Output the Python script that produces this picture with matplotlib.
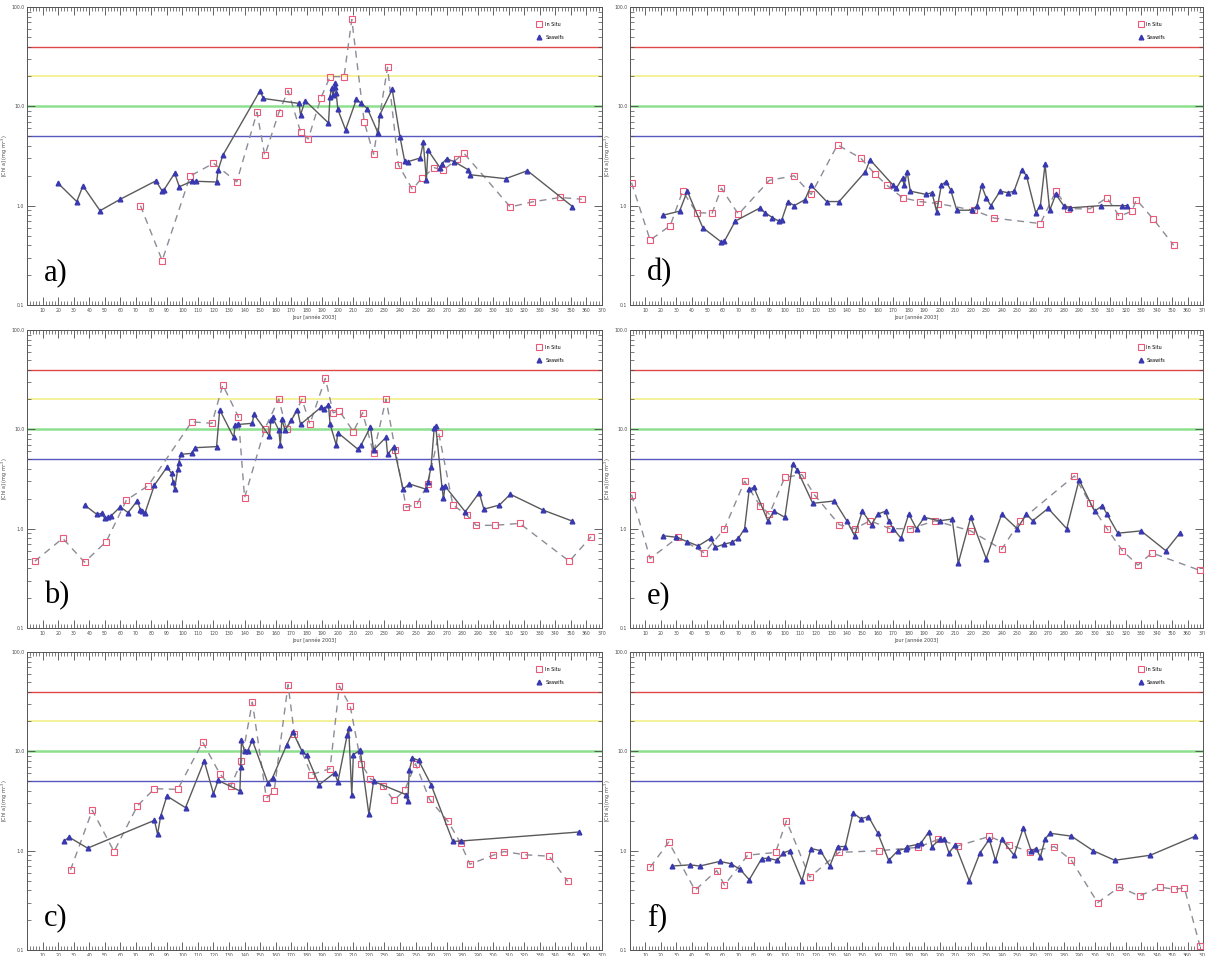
import matplotlib
matplotlib.use('Agg')

from matplotlib import pyplot as plt
from matplotlib.lines import Line2D
from matplotlib.ticker import FixedLocator, NullFormatter, MultipleLocator
import numpy as np

# Chl a, campagne 2003 : mesures in situ et estimations SeaWiFS (jour de l'annee)

a_situ_j = [73, 87, 105, 120, 135, 148, 153, 162, 168, 176, 181, 189, 195, 204, 209,
            217, 223, 232, 239, 248, 254, 262, 268, 277, 281, 311, 325, 343, 357]
a_situ_v = [1.0, 0.28, 1.99, 2.67, 1.74, 8.7, 3.2, 8.6, 14.4, 5.55, 4.7, 12.0, 19.9, 19.9, 75,
            6.95, 3.3, 24.7, 2.57, 1.46, 1.89, 2.41, 2.29, 2.97, 3.39, 0.97, 1.09, 1.21, 1.16]
a_sat_j = [20, 32, 36, 47, 60, 83, 87, 88, 95, 98, 106, 109, 122, 123, 126, 150, 152,
           175, 176, 179, 194, 195, 196, 197, 198, 198.5, 199, 200, 205, 212, 215, 219,
           226, 227, 235, 240, 243, 245, 253, 255, 257, 258, 266, 267, 270, 275, 284,
           285, 308, 322, 351]
a_sat_v = [1.68, 1.10, 1.58, 0.89, 1.16, 1.78, 1.40, 1.43, 2.12, 1.55, 1.76, 1.76, 1.73,
           2.29, 3.21, 14.4, 12.0, 10.7, 8.2, 11.4, 6.8, 12.5, 15.4, 12.9, 15.5, 17.1,
           13.5, 9.3, 5.8, 11.8, 10.7, 9.5, 5.35, 8.2, 14.8, 4.94, 2.82, 2.77, 3.02,
           4.35, 1.81, 3.63, 2.38, 2.63, 2.97, 2.77, 2.29, 2.05, 1.87, 2.25, 0.98]

b_situ_j = [5, 23, 37, 51, 64, 78, 106, 119, 126, 136, 140, 153, 162, 167, 177, 182,
            192, 197, 201, 210, 216, 223, 231, 237, 244, 251, 258, 265, 274, 283, 289,
            301, 317, 349, 363]
b_situ_v = [0.47, 0.80, 0.46, 0.74, 1.94, 2.71, 11.9, 11.5, 27.9, 13.4, 2.05, 10.1, 20.2,
            10.0, 20.0, 11.3, 32.6, 14.7, 15.3, 9.5, 14.7, 5.73, 20.2, 6.2, 1.64, 1.77,
            2.82, 9.1, 1.74, 1.37, 1.08, 1.08, 1.13, 0.47, 0.83]
b_sat_j = [37, 45, 48, 50, 52, 54, 60, 65, 71, 73, 74, 76, 82, 90, 93, 94, 95, 97, 97.5,
           99, 106, 108, 122, 124, 133, 134, 136, 145, 146, 156, 157, 158, 162, 163, 164,
           166, 170, 174, 176, 189, 191, 194, 195, 199, 200, 213, 215, 221, 223, 231,
           232, 236, 242, 246, 257, 258, 260, 262, 263, 267, 268, 269, 282, 291, 294,
           304, 311, 332, 351]
b_sat_v = [1.73, 1.39, 1.43, 1.27, 1.30, 1.34, 1.66, 1.45, 1.91, 1.54, 1.51, 1.45, 2.75,
           4.14, 3.61, 2.97, 2.51, 3.96, 4.55, 5.6, 5.73, 6.53, 6.7, 15.7, 8.3, 11.1,
           11.2, 11.5, 14.2, 8.57, 12.4, 13.2, 9.85, 6.9, 12.6, 9.85, 12.3, 15.7, 11.2,
           16.6, 16.2, 17.6, 11.3, 6.95, 9.25, 6.29, 6.95, 10.6, 6.2, 8.3, 5.6, 6.7,
           2.49, 2.82, 2.49, 2.97, 4.14, 10.2, 10.8, 2.64, 2.02, 2.68, 1.48, 2.30, 1.57,
           1.73, 2.22, 1.54, 1.19]

c_situ_j = [28, 42, 56, 71, 82, 97, 113, 124, 131, 138, 145, 154, 159, 168, 172, 183,
            195, 201, 208, 215, 221, 229, 236, 243, 250, 259, 271, 279, 285, 300, 307,
            320, 336, 348]
c_situ_v = [0.64, 2.55, 0.98, 2.82, 4.21, 4.14, 12.4, 5.96, 4.44, 7.93, 31.4, 3.39, 3.96,
            46.9, 15.1, 5.82, 6.7, 45.5, 28.4, 7.5, 5.3, 4.48, 3.21, 4.05, 7.5, 3.29,
            1.97, 1.19, 0.73, 0.90, 0.98, 0.91, 0.88, 0.49]
c_sat_j = [24, 27, 39, 82, 84, 86, 90, 102, 114, 120, 123, 137, 137.5, 138, 140, 142,
           145, 155, 158, 167, 171, 177, 180, 188, 198, 200, 206, 207, 209, 210, 214,
           214.5, 220, 223, 244, 245, 246, 248, 252, 260, 274, 279, 355]
c_sat_v = [1.25, 1.37, 1.06, 2.02, 1.46, 2.22, 3.55, 2.71, 8.0, 3.75, 5.1, 3.99, 6.95,
           12.9, 10.0, 10.1, 12.9, 4.8, 5.43, 11.5, 15.7, 10.0, 9.1, 4.61, 6.1, 4.91,
           14.5, 17.2, 3.6, 9.25, 10.2, 10.0, 2.32, 4.99, 3.66, 3.14, 6.44, 8.57, 8.1,
           4.61, 1.24, 1.25, 1.54]

d_situ_j = [1, 13, 26, 34, 43, 53, 59, 70, 90, 106, 117, 134, 149, 158, 166, 176, 187,
            199, 222, 235, 265, 275, 283, 297, 308, 316, 324, 327, 338, 351]
d_situ_v = [1.7, 0.45, 0.63, 1.4, 0.85, 0.84, 1.5, 0.82, 1.8, 2.0, 1.3, 4.1, 3.0, 2.1,
            1.6, 1.2, 1.1, 1.05, 0.9, 0.75, 0.66, 1.4, 0.93, 0.93, 1.2, 0.78, 0.88,
            1.15, 0.73, 0.40]
d_sat_j = [21, 32, 37, 47, 59, 61, 68, 84, 87, 92, 96, 98, 102, 106, 113, 117, 127, 135,
           152, 155, 170, 172, 176, 177, 179, 181, 191, 195, 198, 201, 204, 207, 211,
           221, 224, 227, 230, 233, 239, 244, 248, 253, 256, 262, 265, 268, 271, 275,
           280, 284, 304, 318, 321]
d_sat_v = [0.8, 0.88, 1.4, 0.6, 0.43, 0.44, 0.7, 0.95, 0.85, 0.76, 0.7, 0.72, 1.1, 1.0,
           1.15, 1.6, 1.1, 1.1, 2.2, 2.9, 1.6, 1.5, 1.9, 1.6, 2.2, 1.4, 1.3, 1.35, 0.87,
           1.6, 1.75, 1.45, 0.9, 0.9, 1.0, 1.6, 1.2, 1.0, 1.4, 1.35, 1.4, 2.3, 2.0, 0.85,
           1.0, 2.6, 0.9, 1.3, 1.0, 0.95, 1.0, 1.0, 1.0]

e_situ_j = [1, 13, 31, 48, 61, 74, 84, 90, 100, 111, 119, 135, 145, 155, 168, 181,
            197, 220, 240, 252, 287, 297, 308, 318, 328, 337, 368]
e_situ_v = [2.2, 0.5, 0.82, 0.57, 1.0, 3.0, 1.7, 1.4, 3.3, 3.5, 2.2, 1.1, 1.0, 1.2,
            1.0, 1.0, 1.2, 0.95, 0.62, 1.2, 3.4, 1.8, 1.0, 0.6, 0.43, 0.57, 0.38]
e_sat_j = [21, 30, 37, 44, 52, 55, 61, 66, 70, 74, 77, 80, 89, 93, 100, 105, 108, 118,
           132, 140, 145, 150, 156, 160, 165, 167, 170, 175, 180, 185, 190, 200, 208,
           212, 220, 230, 240, 250, 256, 260, 270, 282, 290, 300, 305, 308, 315, 330,
           346, 355]
e_sat_v = [0.85, 0.82, 0.74, 0.67, 0.8, 0.65, 0.7, 0.73, 0.8, 1.0, 2.5, 2.6, 1.2, 1.5,
           1.3, 4.5, 3.9, 1.8, 1.9, 1.2, 0.85, 1.5, 1.1, 1.4, 1.5, 1.2, 1.0, 0.8, 1.4,
           1.0, 1.3, 1.2, 1.25, 0.45, 1.3, 0.5, 1.4, 1.0, 1.4, 1.2, 1.6, 1.0, 3.1, 1.5,
           1.7, 1.4, 0.9, 0.95, 0.6, 0.9]

f_situ_j = [13, 25, 42, 56, 61, 76, 94, 101, 116, 135, 161, 186, 199, 212, 232, 245,
            258, 274, 285, 302, 316, 329, 342, 351, 358, 368]
f_situ_v = [0.68, 1.22, 0.4, 0.63, 0.45, 0.9, 0.96, 2.0, 0.54, 0.96, 1.0, 1.08, 1.3,
            1.12, 1.39, 1.15, 0.97, 1.1, 0.8, 0.3, 0.43, 0.35, 0.43, 0.41, 0.42, 0.11]
f_sat_j = [27, 39, 45, 58, 65, 71, 77, 85, 89, 95, 99, 103, 111, 117, 123, 129, 134,
           139, 144, 149, 154, 160, 167, 173, 178, 179, 185, 188, 193, 195, 200, 203,
           206, 210, 219, 226, 232, 236, 240, 248, 254, 259, 262, 265, 268, 271, 285,
           299, 313, 336, 365]
f_sat_v = [0.7, 0.72, 0.7, 0.78, 0.74, 0.65, 0.51, 0.83, 0.84, 0.8, 0.95, 1.0, 0.5,
           1.05, 1.0, 0.7, 1.1, 1.1, 2.4, 2.1, 2.2, 1.5, 0.8, 1.0, 1.05, 1.1, 1.15, 1.2,
           1.55, 1.1, 1.3, 1.3, 0.95, 1.15, 0.5, 0.95, 1.3, 0.8, 1.3, 0.9, 1.7, 1.0,
           1.05, 0.87, 1.3, 1.5, 1.4, 1.0, 0.8, 0.9, 1.4]

panneaux = [
    ('a)', a_situ_j, a_situ_v, a_sat_j, a_sat_v),
    ('b)', b_situ_j, b_situ_v, b_sat_j, b_sat_v),
    ('c)', c_situ_j, c_situ_v, c_sat_j, c_sat_v),
    ('d)', d_situ_j, d_situ_v, d_sat_j, d_sat_v),
    ('e)', e_situ_j, e_situ_v, e_sat_j, e_sat_v),
    ('f)', f_situ_j, f_situ_v, f_sat_j, f_sat_v),
]

# seuils horizontaux
seuils = [40, 20, 10, 5]
couleurs_seuils = ['#e04848', '#f4f08a', '#8ee08e', '#5858c0']
largeurs_seuils = [1.0, 1.2, 1.8, 1.0]

ROUGE = '#e85a78'
BLEU = '#3838b0'

W, H = 1205, 956
fig = plt.figure(figsize=(W / 100, H / 100), dpi=100)

gauches = [27, 630]
largeurs = [575, 573]
hauts = [7, 330, 652]
hauteur = 298

for k, (nom, sj, sv, tj, tv) in enumerate(panneaux):
    col = k // 3
    lig = k % 3
    ax = fig.add_axes([gauches[col] / W, 1 - (hauts[lig] + hauteur) / H,
                       largeurs[col] / W, hauteur / H])
    ax.set_yscale('log')
    ax.set_xlim(0, 370)
    ax.set_ylim(0.1, 100)

    for s, c, lw in zip(seuils, couleurs_seuils, largeurs_seuils):
        ax.axhline(s, color=c, lw=lw, zorder=1)

    ax.plot(sj, sv, ls=(0, (5, 4)), color='#8c8c98', lw=1.0, marker='s',
            mfc='none', mec=ROUGE, mew=0.8, ms=4.2, zorder=3)
    ax.plot(tj, tv, ls='-', color='#5a5a5a', lw=1.0, marker='^',
            mfc=BLEU, mec=BLEU, ms=3.4, zorder=4)

    ax.xaxis.set_major_locator(MultipleLocator(10))
    ax.xaxis.set_minor_locator(MultipleLocator(2))
    ax.set_xticks(np.arange(10, 371, 10))
    ax.set_xticklabels([str(j) for j in range(10, 371, 10)])
    ax.yaxis.set_major_locator(FixedLocator([0.1, 1, 10, 100]))
    ax.set_yticklabels(['0.1', '1.0', '10.0', '100.0'])
    mineurs = [m * 10.0 ** e for e in (-1, 0, 1) for m in range(2, 10)]
    ax.yaxis.set_minor_locator(FixedLocator(mineurs))
    ax.yaxis.set_minor_formatter(NullFormatter())

    ax.tick_params(which='both', direction='in', top=True, right=True,
                   labelsize=3.3, colors='#4a4a4a', pad=2)
    ax.tick_params(which='major', length=6, width=0.6)
    ax.tick_params(which='minor', length=3, width=0.5)
    for sp in ax.spines.values():
        sp.set_color('#555555')
        sp.set_linewidth(0.7)

    if lig < 2:
        ax.set_xlabel('Jour [ann\u00e9e 2003]', fontsize=3.5, labelpad=1, color='#444444')
    ax.set_ylabel('[Chl a] (mg m$^{-3}$)', fontsize=3.5, labelpad=1, color='#444444')

    poignees = [
        Line2D([], [], ls='none', marker='s', mfc='none', mec=ROUGE, mew=0.8, ms=4.2),
        Line2D([], [], ls='none', marker='^', mfc=BLEU, mec=BLEU, ms=3.4),
    ]
    ax.legend(poignees, ['In Situ', 'Seawifs'], loc='upper left',
              bbox_to_anchor=(0.88, 0.965), frameon=False, fontsize=3.5,
              handlelength=0.8, handletextpad=0.8, labelspacing=1.6)

    ax.text(0.03, 0.06, nom, transform=ax.transAxes, fontsize=22,
            family='Liberation Serif', ha='left', va='bottom')

fig.savefig('out.png', dpi=100)
